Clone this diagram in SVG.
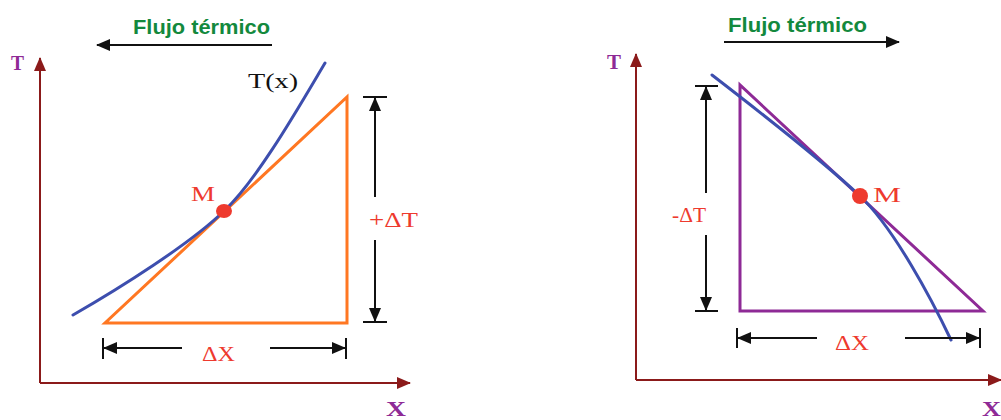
<svg xmlns="http://www.w3.org/2000/svg" width="1001" height="420" viewBox="0 0 1001 420">
<defs>
<style>
.title{font-family:"Liberation Sans",Arial,sans-serif;font-weight:bold;font-size:21px;fill:#13893d}
.axlab{font-family:"Liberation Serif","Times New Roman",serif;font-weight:bold;font-size:22px;fill:#8e2a96}
.lab{font-family:"Liberation Serif","Times New Roman",serif;font-size:22px;fill:#ee3a2e}
.blk{font-family:"Liberation Serif","Times New Roman",serif;font-size:22px;fill:#111}
.axis{stroke:#8b1a1a;stroke-width:2;fill:none}
.dim{stroke:#111;stroke-width:2;fill:none}
.curve{stroke:#3d4eae;stroke-width:3;fill:none;stroke-linecap:round}
</style>
<marker id="ahAx" markerWidth="14" markerHeight="12" refX="13" refY="6" orient="auto" markerUnits="userSpaceOnUse"><path d="M0,0 L14,6 L0,12 Z" fill="#8b1a1a"/></marker>
<marker id="ahB" markerWidth="14" markerHeight="12" refX="13" refY="6" orient="auto" markerUnits="userSpaceOnUse"><path d="M0,0 L14,6 L0,12 Z" fill="#111"/></marker>
</defs>

<g id="left-panel">
<g id="left-title">
<text class="title" x="133" y="34" textLength="137" lengthAdjust="spacingAndGlyphs">Flujo térmico</text>
</g>
<g id="left-axes">
<path class="axis" d="M40,383 L40,58" marker-end="url(#ahAx)"/>
<path class="axis" d="M40,383 L410,383" marker-end="url(#ahAx)"/>
<text class="axlab" x="11" y="70" textLength="13" lengthAdjust="spacingAndGlyphs">T</text>
<text class="axlab" x="386" y="416" textLength="20" lengthAdjust="spacingAndGlyphs">X</text>
</g>
<g id="left-triangle">
<path d="M105,323 L347,323 L347,97 Z" fill="none" stroke="#ff7722" stroke-width="3" stroke-linejoin="miter"/>
</g>
<g id="left-curve">
<path class="curve" d="M73,315 C120,288 190,244 224,211 C258,179 300,105 325,63"/>
<text class="blk" x="248" y="88" textLength="50" lengthAdjust="spacingAndGlyphs">T(x)</text>
</g>
<g id="left-M">
<ellipse cx="224" cy="211" rx="8" ry="7" fill="#ee3a2e"/>
<text class="lab" x="191" y="201" textLength="24" lengthAdjust="spacingAndGlyphs">M</text>
</g>
<g id="left-dT">
<path class="dim" d="M363,97 L387,97 M363,322 L387,322"/>
<path class="dim" d="M375,197 L375,98" marker-end="url(#ahB)"/>
<path class="dim" d="M375,240 L375,321" marker-end="url(#ahB)"/>
<text class="lab" x="369" y="227" textLength="49" lengthAdjust="spacingAndGlyphs">+ΔT</text>
</g>
<g id="left-dX">
<path class="dim" d="M103,338 L103,359 M346,338 L346,359"/>
<path class="dim" d="M182,348 L104,348" marker-end="url(#ahB)"/>
<path class="dim" d="M270,348 L345,348" marker-end="url(#ahB)"/>
<text class="lab" x="202" y="361" textLength="33" lengthAdjust="spacingAndGlyphs">ΔX</text>
</g>
</g>

<g id="connectors">
<path class="dim" d="M272,45 L97,45" marker-end="url(#ahB)"/>
<path class="dim" d="M724,42 L899,42" marker-end="url(#ahB)"/>
</g>

<g id="right-panel">
<g id="right-title">
<text class="title" x="728" y="32" textLength="139" lengthAdjust="spacingAndGlyphs">Flujo térmico</text>
</g>
<g id="right-axes">
<path class="axis" d="M636,380 L636,54" marker-end="url(#ahAx)"/>
<path class="axis" d="M636,380 L1001,380" marker-end="url(#ahAx)"/>
<text class="axlab" x="607" y="69" textLength="14" lengthAdjust="spacingAndGlyphs">T</text>
<text class="axlab" x="982" y="416" textLength="19" lengthAdjust="spacingAndGlyphs">X</text>
</g>
<g id="right-triangle">
<path d="M740,85 L740,311 L983,311 Z" fill="none" stroke="#8e2a96" stroke-width="3" stroke-linejoin="miter"/>
</g>
<g id="right-curve">
<path class="curve" d="M712,75 C760,112 826,164 860,196 C894,228 932,300 951,340"/>
</g>
<g id="right-M">
<ellipse cx="860" cy="196" rx="8" ry="8" fill="#ee3a2e"/>
<text class="lab" x="873" y="202" textLength="28" lengthAdjust="spacingAndGlyphs">M</text>
</g>
<g id="right-dT">
<path class="dim" d="M695,86 L718,86 M695,311 L718,311"/>
<path class="dim" d="M706,193 L706,87" marker-end="url(#ahB)"/>
<path class="dim" d="M706,235 L706,310" marker-end="url(#ahB)"/>
<text class="lab" x="672" y="222" textLength="34" lengthAdjust="spacingAndGlyphs">-ΔT</text>
</g>
<g id="right-dX">
<path class="dim" d="M737,328 L737,348 M980,328 L980,348"/>
<path class="dim" d="M817,338 L738,338" marker-end="url(#ahB)"/>
<path class="dim" d="M905,338 L979,338" marker-end="url(#ahB)"/>
<text class="lab" x="835" y="350" textLength="34" lengthAdjust="spacingAndGlyphs">ΔX</text>
</g>
</g>
</svg>
